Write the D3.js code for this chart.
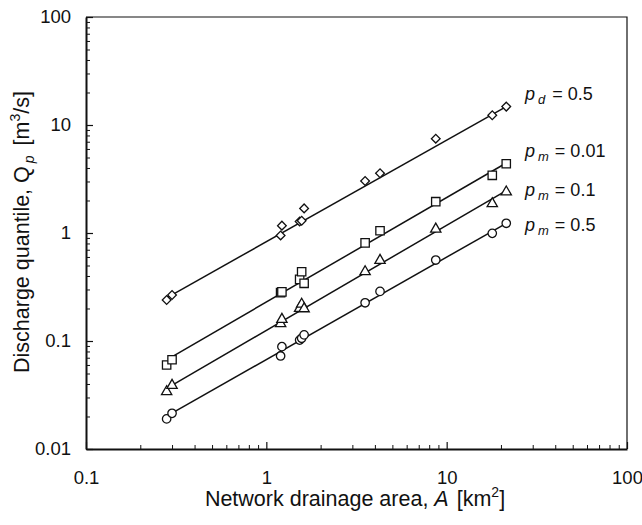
<!DOCTYPE html>
<html>
<head>
<meta charset="utf-8">
<script src="https://cdnjs.cloudflare.com/ajax/libs/d3/7.8.5/d3.min.js"></script>
<style>
   body { margin: 0; background: #fff; }
   svg text { font-family: "Liberation Sans", Arial, sans-serif; fill: #111; }
   .axis path, .axis line { stroke: #111; }
</style>
</head>
<body>
<div id="chart"></div>
<script>
// drainage area of each gauged sub-network [km2]
var areas = [0.28, 0.30, 1.20, 1.22, 1.53, 1.57, 1.62, 3.53, 4.27, 8.7, 17.9, 21.4];

// discharge quantiles [m3/s], one list per curve
var qPd05  = [0.240, 0.267, 0.95, 1.17, 1.28, 1.30, 1.69, 3.03, 3.57, 7.47, 12.3, 14.8];
var qPm001 = [0.060, 0.067, 0.280, 0.285, 0.372, 0.438, 0.342, 0.81, 1.05, 1.95, 3.42, 4.38];
var qPm01  = [0.0347, 0.0397, 0.148, 0.162, 0.205, 0.224, 0.203, 0.448, 0.570, 1.11, 1.91, 2.45];
var qPm05  = [0.0190, 0.0214, 0.0727, 0.0886, 0.102, 0.106, 0.114, 0.226, 0.288, 0.562, 0.993, 1.23];

// fitted lines, read at both ends
var lineA     = [0.285, 21.4];
var linePd05  = [0.255, 14.8];
var linePm001 = [0.068, 4.45];
var linePm01  = [0.037, 2.47];
var linePm05  = [0.0205, 1.23];

// curve labels
var subs   = ["d", "m", "m", "m"];
var probs  = ["0.5", "0.01", "0.1", "0.5"];
var labelY = [100, 157, 196, 231];

var xTicks = [0.1, 1, 10, 100];
var yTicks = [0.01, 0.1, 1, 10, 100];

var w = 642, h = 525;
var plotL = 86, plotR = 627, plotT = 17, plotB = 449;

var svg = d3.select("#chart").append("svg")
   .attr("width", w)
   .attr("height", h);

var x = d3.scaleLog().domain([0.1, 100]).range([plotL, plotR]);
var y = d3.scaleLog().domain([0.01, 100]).range([plotB, plotT]);

function minors(ticks){
   var out = [];
   for(let i = 0; i < ticks.length - 1; i++){
      for(let k = 2; k <= 9; k++) out.push(ticks[i] * k);
   }
   return out;
}

// frame (top + right)
svg.append("path")
   .attr("d", "M" + plotL + "," + plotT + "H" + plotR + "V" + plotB)
   .attr("fill", "none")
   .attr("stroke", "#111")
   .attr("stroke-width", 1.2);

// minor ticks
svg.append("g").attr("class", "axis")
   .attr("transform", "translate(0," + plotB + ")")
   .call(d3.axisBottom(x).tickValues(minors(xTicks)).tickSize(-4).tickSizeOuter(0).tickFormat(""))
   .call(g => g.select(".domain").remove());
svg.append("g").attr("class", "axis")
   .attr("transform", "translate(" + plotL + ",0)")
   .call(d3.axisLeft(y).tickValues(minors(yTicks)).tickSize(-4).tickSizeOuter(0).tickFormat(""))
   .call(g => g.select(".domain").remove());

// major ticks + labels
var xAxis = svg.append("g").attr("class", "axis")
   .attr("transform", "translate(0," + plotB + ")")
   .call(d3.axisBottom(x).tickValues(xTicks).tickSize(-7).tickSizeOuter(0).tickPadding(22)
      .tickFormat(d => String(d)));
var yAxis = svg.append("g").attr("class", "axis")
   .attr("transform", "translate(" + plotL + ",0)")
   .call(d3.axisLeft(y).tickValues(yTicks).tickSize(-7).tickSizeOuter(0).tickPadding(15)
      .tickFormat(d => String(d)));

[xAxis, yAxis].forEach(function(g){
   g.select(".domain").attr("stroke-width", 2);
   g.selectAll(".tick line").attr("stroke-width", 1.2);
   g.selectAll("text").attr("font-size", 18.5).attr("fill", "#111")
      .style("font-family", '"Liberation Sans", Arial, sans-serif');
});
svg.selectAll(".tick line").attr("stroke", "#111");

// fitted lines
var lines = [linePd05, linePm001, linePm01, linePm05];
var line = d3.line()
   .x(function(d, i){ return x(lineA[i]); })
   .y(function(d){ return y(d); });

svg.selectAll(".fit")
   .data(lines)
   .enter()
   .append("path")
   .attr("class", "fit")
   .attr("d", d => line(d))
   .attr("fill", "none")
   .attr("stroke", "#111")
   .attr("stroke-width", 1.5);

// markers (diamond = square turned 45 deg)
var series = [qPd05, qPm001, qPm01, qPm05];
var shapes = [d3.symbolSquare, d3.symbolSquare, d3.symbolTriangle, d3.symbolCircle];
var sizes  = [38, 70, 46, 56];

series.forEach(function(vals, s){
   var sym = d3.symbol().type(shapes[s]).size(sizes[s]);
   svg.append("g").selectAll("path")
      .data(vals)
      .enter()
      .append("path")
      .attr("d", sym)
      .attr("transform", function(d, i){
         var dy = s == 2 ? 1 : 0;
         var tr = "translate(" + x(areas[i]) + "," + (y(d) + dy) + ")";
         if(s == 0) tr += " rotate(45)";
         return tr;
      })
      .attr("fill", "#fff")
      .attr("stroke", "#111")
      .attr("stroke-width", 1.3);
});

// curve labels
probs.forEach(function(p, i){
   var t = svg.append("text")
      .attr("x", 525)
      .attr("y", labelY[i])
      .attr("font-size", 18);
   t.append("tspan").attr("font-style", "italic").text("p");
   t.append("tspan").attr("font-style", "italic").attr("font-size", 13)
      .attr("dx", 3).attr("dy", 4).text(subs[i]);
   t.append("tspan").attr("dx", subs[i] == "d" ? 7 : 6).attr("dy", -4).text("= " + p);
});

// axis titles
var xt = svg.append("text")
   .attr("x", 355)
   .attr("y", 506)
   .attr("text-anchor", "middle")
   .attr("font-size", 21.5);
xt.append("tspan").text("Network drainage area, ");
xt.append("tspan").attr("font-style", "italic").text("A");
xt.append("tspan").attr("dx", 8).text("[km");
xt.append("tspan").attr("font-size", 14).attr("dy", -9).text("2");
xt.append("tspan").attr("dy", 9).text("]");

var yt = svg.append("text")
   .attr("transform", "translate(29,232) rotate(-90)")
   .attr("text-anchor", "middle")
   .attr("font-size", 21.5);
yt.append("tspan").text("Discharge quantile, Q");
yt.append("tspan").attr("font-style", "italic").attr("font-size", 14).attr("dx", 3).attr("dy", 5).text("p");
yt.append("tspan").attr("dx", 10).attr("dy", -5).text("[m");
yt.append("tspan").attr("font-size", 14).attr("dy", -9).text("3");
yt.append("tspan").attr("dy", 9).text("/s]");
</script>
</body>
</html>
